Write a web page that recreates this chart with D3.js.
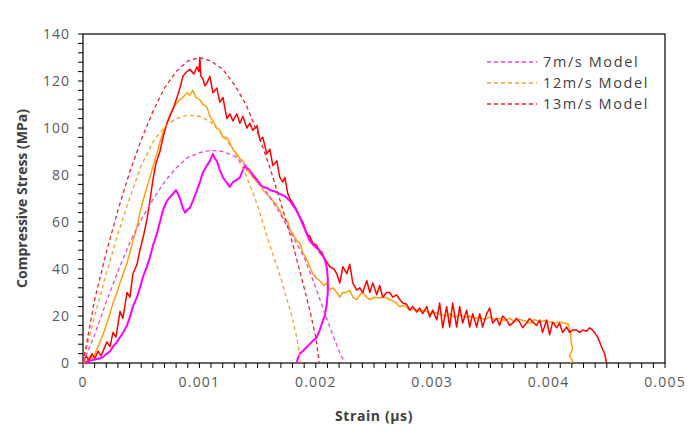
<!DOCTYPE html>
<html><head><meta charset="utf-8">
<script src="https://cdn.jsdelivr.net/npm/d3@7"></script>
<style>
html,body{margin:0;padding:0;background:#fff;}
svg{display:block;font-family:"Open Sans","Liberation Sans",sans-serif;}
</style></head>
<body><svg id="chart" width="692" height="440"></svg>
<script>
// ---- data (strain, stress MPa) ----
const xTicks = [0, 0.001, 0.002, 0.003, 0.004, 0.005];
const xTickLabels = ["0", "0.001", "0.002", "0.003", "0.004", "0.005"];
const yTicks = [0, 20, 40, 60, 80, 100, 120, 140];
const legendLabels = ["7m/s Model", "12m/s Model", "13m/s Model"];

const model7 = [[0,0],[0.0001,12],[0.0002,26],[0.0003,39],[0.0004,51],[0.0005,61],[0.0006,69.5],[0.0007,77],[0.0008,83],[0.0009,87.5],[0.001,89.5],[0.0011,90.5],[0.0012,90],[0.0013,88],[0.0014,84],[0.0015,78],[0.0016,71],[0.0017,63],[0.0018,54],[0.0019,45],[0.002,32],[0.0021,18],[0.0022,5],[0.00225,0]];
const model12 = [[0,0],[0.0001,20],[0.0002,38],[0.0003,55],[0.0004,70],[0.0005,84],[0.0006,94],[0.0007,100.5],[0.0008,104],[0.0009,105.5],[0.001,105],[0.0011,102.5],[0.0012,97],[0.0013,90],[0.0014,80],[0.0015,67],[0.0016,51],[0.0017,36],[0.0018,19],[0.00184,10],[0.00187,0]];
const model13 = [[0,0],[0.00003,8],[0.0001,27],[0.0002,47],[0.0003,65],[0.0004,81],[0.0005,95],[0.0006,107],[0.0007,117],[0.0008,124],[0.0009,128.5],[0.001,130],[0.0011,128.5],[0.0012,125],[0.0013,118.5],[0.0014,110],[0.0015,98],[0.0016,84],[0.0017,68],[0.0018,51],[0.0019,32],[0.00195,22],[0.002,11],[0.00203,0]];

const test7 = [[0.000017,0],[0.00006,1],[0.000103,1.5],[0.000146,2],[0.000172,2.5],[0.000206,4],[0.000232,5],[0.000258,7],[0.000292,9],[0.000318,11],[0.000343,12.7],[0.000378,16],[0.000403,19.6],[0.000429,24],[0.000464,28],[0.000489,32],[0.000515,36.6],[0.000549,41],[0.000575,45],[0.000601,50],[0.000635,55],[0.000661,60],[0.000687,65],[0.000721,69],[0.000747,70.6],[0.000773,72],[0.000798,73.6],[0.000815,72],[0.000833,70],[0.000858,66],[0.000876,64],[0.000893,65],[0.000918,66],[0.000944,69],[0.000979,73.6],[0.001004,77],[0.00103,81],[0.001064,84],[0.00109,86],[0.001107,88],[0.001116,89],[0.001133,87],[0.00115,86],[0.001176,82],[0.001202,79],[0.001236,76.6],[0.001262,75],[0.001288,77],[0.001322,78],[0.001348,79],[0.001373,82],[0.001391,84],[0.001408,83],[0.001433,82],[0.001459,80],[0.001494,78],[0.001519,76],[0.001545,75],[0.001579,74.5],[0.001605,73.6],[0.001648,73],[0.001691,72],[0.001734,71],[0.001777,69],[0.00182,66],[0.001863,62],[0.001888,59],[0.001923,55],[0.001948,52],[0.001983,50],[0.002017,48.5],[0.002052,47],[0.002077,44],[0.002094,41],[0.002103,36],[0.002103,30],[0.002094,25],[0.002077,20],[0.00206,18],[0.002034,14],[0.002009,11],[0.001966,9],[0.001923,6.8],[0.001888,5],[0.001863,4],[0.001845,2],[0.001837,0]];

const test12 = [[0,0],[0.000034,1],[0.00006,3],[0.000086,2],[0.000112,5],[0.000146,9],[0.000172,12],[0.000206,17],[0.000232,21],[0.000258,25.5],[0.000292,30],[0.000318,34],[0.000352,39],[0.000378,42.5],[0.000403,47],[0.000429,52],[0.000464,58],[0.000489,64],[0.000532,72],[0.000575,79],[0.000609,85],[0.000635,89],[0.000661,94],[0.000687,98],[0.000721,102],[0.000747,106],[0.000781,109],[0.000807,110.6],[0.000833,112],[0.000858,113],[0.000893,115],[0.000918,114],[0.000944,116],[0.00097,113],[0.001004,112],[0.00103,110],[0.001064,109],[0.00109,105],[0.001116,103],[0.00115,100],[0.001176,99],[0.001202,96],[0.001236,96],[0.001262,93.6],[0.001288,91],[0.001322,89],[0.001348,87],[0.001373,86],[0.001408,82],[0.001433,81],[0.001459,79],[0.001494,77],[0.001519,76.6],[0.001545,73.6],[0.001579,72],[0.001605,70.6],[0.001631,69],[0.001665,67],[0.001691,65],[0.001717,62],[0.00176,60],[0.001777,57],[0.001803,55],[0.001837,52],[0.001863,51],[0.001888,47],[0.001923,44],[0.001948,41],[0.001974,38],[0.002009,36],[0.002034,35],[0.002069,33],[0.002094,34],[0.00212,31],[0.002146,32],[0.00218,30],[0.002206,28],[0.002232,30],[0.002266,30],[0.002292,31],[0.002318,28],[0.002352,27],[0.002378,29],[0.002403,30],[0.002438,28],[0.002464,27],[0.002506,28],[0.002549,27.7],[0.002592,28],[0.002635,27],[0.002678,26],[0.002721,24],[0.002764,24.5],[0.002807,22.5],[0.00285,23],[0.002893,22],[0.002936,22.5],[0.002979,21],[0.003021,21.5],[0.003064,21],[0.003107,20],[0.00315,21],[0.003193,19.5],[0.003236,20.5],[0.003279,19.5],[0.003322,20],[0.003365,19],[0.003408,19.5],[0.003451,18.5],[0.003494,19.5],[0.003536,18.5],[0.003579,19],[0.003622,18],[0.003665,19],[0.003708,17.5],[0.003751,18.5],[0.003794,18],[0.003837,17],[0.00388,18.5],[0.003923,17.5],[0.003966,18],[0.004009,17.5],[0.004052,17],[0.004094,17.5],[0.004137,17],[0.004172,16.5],[0.004189,12],[0.004197,8],[0.004206,6],[0.00418,3],[0.004206,1],[0.004189,0]];

const test13 = [[0,0],[0.000026,3],[0.000052,1],[0.000077,4],[0.000103,2],[0.000129,5],[0.000155,3],[0.00018,6],[0.000206,9],[0.000232,7],[0.000258,13],[0.000283,11],[0.000318,22],[0.000343,19],[0.000378,30],[0.000403,28],[0.000429,38],[0.000464,42],[0.000489,48],[0.000524,55],[0.000549,61],[0.000575,69],[0.000601,78],[0.000627,85],[0.000661,90],[0.000687,96],[0.000721,102],[0.000747,105],[0.000773,108],[0.000807,113],[0.000833,117],[0.000858,122],[0.000893,124],[0.000918,125],[0.000953,123],[0.000979,126],[0.000996,124],[0.001004,130],[0.001013,122],[0.00103,121],[0.001047,118],[0.001064,119],[0.00109,122],[0.001116,115],[0.00115,117],[0.001176,111],[0.001202,113],[0.001236,104],[0.001262,106],[0.001288,103],[0.001322,106],[0.001348,102],[0.001373,105],[0.001408,100],[0.001433,102],[0.001459,99],[0.001494,101],[0.001519,95],[0.001545,96],[0.001579,89],[0.001605,91],[0.001631,84],[0.001665,86],[0.001691,79],[0.001717,77],[0.001734,79],[0.00176,72],[0.001777,70],[0.001803,68],[0.001837,65],[0.001863,62],[0.001888,60],[0.001923,55],[0.001948,54],[0.001974,51],[0.002009,50],[0.002034,47],[0.002069,45],[0.002094,43],[0.00212,41],[0.002155,40],[0.00218,38],[0.002206,34],[0.002232,41],[0.002266,38],[0.002292,42],[0.002318,34],[0.002352,31],[0.002378,32],[0.002403,30],[0.002438,35],[0.002464,30],[0.002489,34],[0.002524,29],[0.002549,33],[0.002575,28],[0.002609,30],[0.002635,30],[0.002661,28],[0.002695,29],[0.002721,27],[0.002747,25.5],[0.002781,25],[0.002807,22.5],[0.002833,24],[0.002867,21.7],[0.002893,23.4],[0.002918,21],[0.002953,24],[0.002979,19.6],[0.003004,22.5],[0.003039,18.3],[0.003064,25.5],[0.00309,15],[0.003124,24],[0.00315,15.3],[0.003176,25.5],[0.00321,15.3],[0.003236,24],[0.003262,17],[0.003296,22.5],[0.003322,15.3],[0.003348,21],[0.003382,15.3],[0.003408,21],[0.003433,15.3],[0.003468,21],[0.003494,23.4],[0.003519,17],[0.003554,19],[0.003579,16],[0.003605,20],[0.003639,18.3],[0.003665,16],[0.003691,17],[0.003725,19],[0.003751,17.4],[0.003777,15],[0.003811,17],[0.003837,19],[0.003863,17.4],[0.003897,16],[0.003923,18.3],[0.003948,13],[0.003983,18.3],[0.004009,12],[0.004034,17.4],[0.004069,15],[0.004094,17],[0.00412,13],[0.004155,15.3],[0.00418,13],[0.004206,14],[0.00424,14],[0.004266,13],[0.004292,14],[0.004326,13.5],[0.004352,15],[0.004378,14],[0.004395,13],[0.004421,11],[0.004438,9],[0.004455,6.8],[0.004472,5],[0.004481,4],[0.004498,0]];

// ---- layout ----
const svg = d3.select("#chart");
const L = 83, R = 665, T = 34, B = 363;
const x = d3.scaleLinear().domain([0, 0.005]).range([L, R]);
const y = d3.scaleLinear().domain([0, 140]).range([B, T]);

const line = d3.line().x(d => x(d[0])).y(d => y(d[1]));

// frame
svg.append("rect").attr("x", L).attr("y", T).attr("width", R - L).attr("height", B - T)
  .attr("fill", "none").attr("stroke", "#000").attr("stroke-width", 1.2);

// minor ticks
const xMinor = d3.range(0, 51).map(i => i * 0.0001);
svg.append("g").selectAll("line").data(xMinor).join("line")
  .attr("x1", d => x(d)).attr("x2", d => x(d)).attr("y1", B).attr("y2", B + 5)
  .attr("stroke", "#000").attr("stroke-width", 1);
const yMinor = d3.range(0, 36).map(i => i * 4);
svg.append("g").selectAll("line").data(yMinor).join("line")
  .attr("x1", L - 5).attr("x2", L).attr("y1", d => y(d)).attr("y2", d => y(d))
  .attr("stroke", "#000").attr("stroke-width", 1);

// tick labels
svg.append("g").selectAll("text").data(xTicks).join("text")
  .attr("x", d => x(d)).attr("y", 387).attr("text-anchor", "middle")
  .attr("font-size", 14).attr("letter-spacing", 1.2).attr("fill", "#595959").text((d, i) => xTickLabels[i]);
svg.append("g").selectAll("text").data(yTicks).join("text")
  .attr("x", 70).attr("y", d => y(d) + 5).attr("text-anchor", "end")
  .attr("font-size", 14).attr("letter-spacing", 1).attr("fill", "#595959").text(d => d);

// axis titles
svg.append("text").attr("x", (L + R) / 2).attr("y", 421).attr("text-anchor", "middle")
  .attr("font-size", 14).attr("font-weight", "bold").attr("letter-spacing", 0.6).attr("fill", "#404040").text("Strain (μs)");
svg.append("text").attr("transform", `translate(27,${(T + B) / 2}) rotate(-90)`)
  .attr("text-anchor", "middle").attr("font-size", 14).attr("font-weight", "bold")
  .attr("fill", "#404040").text("Compressive Stress (MPa)");

// test curves
const solids = [
  {d: test12, c: "#FFA010", w: 1.5},
  {d: test13, c: "#FF0000", w: 1.5},
  {d: test7, c: "#FF00FF", w: 2}
];
solids.forEach(s => svg.append("path").attr("d", line(s.d)).attr("fill", "none")
  .attr("stroke", s.c).attr("stroke-width", s.w).attr("stroke-linejoin", "round"));

// model curves
const modelColors = ["#EE44DD", "#F5A030", "#EE2030"];
const models = [model7, model12, model13];
models.forEach((m, i) => svg.append("path").attr("d", line(m)).attr("fill", "none")
  .attr("stroke", modelColors[i]).attr("stroke-width", 1.3).attr("stroke-dasharray", "4,3"));

// legend
const lg = svg.append("g");
legendLabels.forEach((t, i) => {
  const yy = 62 + i * 21;
  lg.append("line").attr("x1", 487).attr("x2", 537).attr("y1", yy).attr("y2", yy)
    .attr("stroke", modelColors[i]).attr("stroke-width", 1.3).attr("stroke-dasharray", "4,3");
  lg.append("text").attr("x", 543).attr("y", yy + 5).attr("font-size", 14.5)
    .attr("letter-spacing", 1.6).attr("fill", "#404040").text(t);
});
</script></body></html>
